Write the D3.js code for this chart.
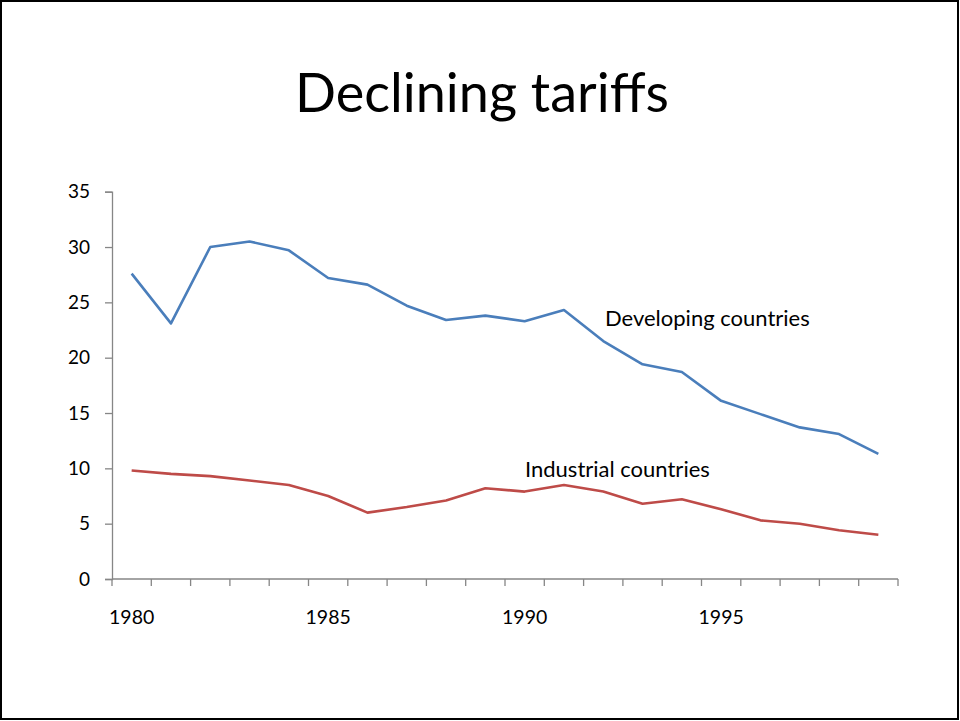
<!DOCTYPE html>
<html><head><meta charset="utf-8">
<script src="https://cdn.jsdelivr.net/npm/d3@7"></script>
<style>body{margin:0;background:#fff}svg{display:block}text{font-family:Lato,"Open Sans",sans-serif}</style>
</head><body>
<svg id="c" width="960" height="721"></svg>
<script>
const years = d3.range(1980, 2000);
const developing = [27.6,23.1,30.0,30.5,29.7,27.2,26.6,24.7,23.4,23.8,23.3,24.3,21.5,19.4,18.7,16.1,14.9,13.7,13.1,11.3];
const industrial = [9.8,9.5,9.3,8.9,8.5,7.5,6.0,6.5,7.1,8.2,7.9,8.5,7.9,6.8,7.2,6.3,5.3,5.0,4.4,4.0];
const yTicks = [0,5,10,15,20,25,30,35];
const xLabels = [1980,1985,1990,1995];

const svg = d3.select("#c");
svg.append("rect").attr("x",1).attr("y",1).attr("width",957).attr("height",718)
  .attr("fill","none").attr("stroke","#000").attr("stroke-width",2);

svg.append("text").attr("x",482).attr("y",112).attr("text-anchor","middle")
  .attr("font-size",54).attr("fill","#000").text("Declining tariffs");

const L=112, R=898, T=191.7, B=579;
const x = d3.scaleBand().domain(years).range([L,R]);
const y = d3.scaleLinear().domain([0,35]).range([B,T]);
const axisColor="#868686";

// y axis
const ya = svg.append("g").attr("transform",`translate(${L},0)`)
  .call(d3.axisLeft(y).tickValues(yTicks).tickSize(7).tickPadding(15));
ya.select(".domain").attr("stroke",axisColor).attr("stroke-width",1.3);
ya.selectAll(".tick line").attr("stroke",axisColor).attr("stroke-width",1.3);
ya.selectAll(".tick text").attr("font-size",19).attr("fill","#000").attr("font-family","Lato");

// x axis
const xa = svg.append("g").attr("transform",`translate(0,${B})`);
xa.append("line").attr("x1",L).attr("x2",R).attr("stroke",axisColor).attr("stroke-width",1.3);
const bounds = years.map(d=>x(d)).concat([R]);
xa.selectAll("line.tk").data(bounds).join("line").attr("class","tk")
  .attr("x1",d=>d).attr("x2",d=>d).attr("y1",0).attr("y2",7)
  .attr("stroke",axisColor).attr("stroke-width",1.3);
xa.selectAll("text").data(xLabels).join("text")
  .attr("x",d=>x(d)+x.bandwidth()/2).attr("y",45).attr("text-anchor","middle")
  .attr("font-size",19.5).attr("fill","#000").text(d=>d);

const line = d3.line().x((d,i)=>x(years[i])+x.bandwidth()/2).y(d=>y(d));
svg.append("path").datum(developing).attr("d",line).attr("fill","none")
  .attr("stroke","#4A7EBB").attr("stroke-width",2.6).attr("stroke-linejoin","round");
svg.append("path").datum(industrial).attr("d",line).attr("fill","none")
  .attr("stroke","#BE4B48").attr("stroke-width",2.6).attr("stroke-linejoin","round");

svg.append("text").attr("x",605).attr("y",326).attr("font-size",22).attr("fill","#000").text("Developing countries");
svg.append("text").attr("x",525).attr("y",477).attr("font-size",22).attr("fill","#000").text("Industrial countries");
</script>
</body></html>
